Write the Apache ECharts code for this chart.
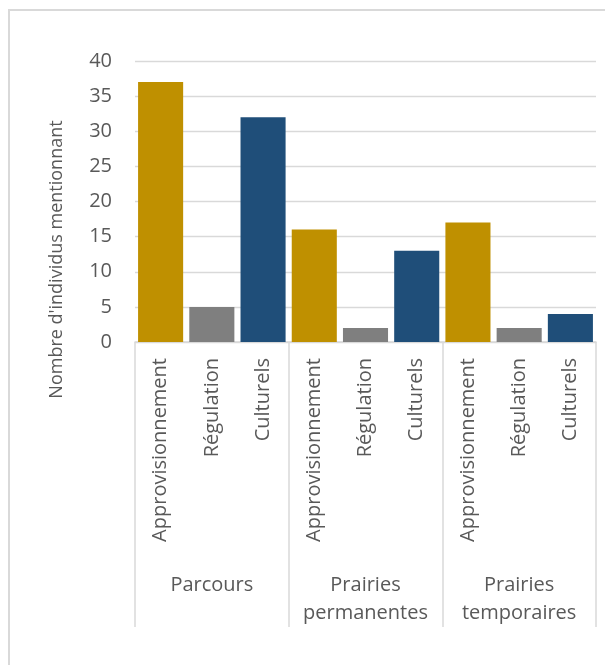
<!DOCTYPE html>
<html>
<head>
<meta charset="utf-8">
<script src="https://cdn.jsdelivr.net/npm/echarts@6/dist/echarts.min.js"></script>
<style>
html,body{margin:0;padding:0;background:#fff;}
#frame{position:absolute;left:8px;top:9px;width:700px;height:800px;border-top:2px solid #d9d9d9;border-left:2px solid #d9d9d9;box-sizing:border-box;}
#chart{position:absolute;left:0;top:0;width:605px;height:665px;}
</style>
</head>
<body>
<div id="frame"></div>
<div id="chart"></div>
<script>
const groups = ['Parcours', 'Prairies\npermanentes', 'Prairies\ntemporaires'];
const services = ['Approvisionnement', 'Régulation', 'Culturels'];
const parcours = [37, 5, 32];
const prairiesPermanentes = [16, 2, 13];
const prairiesTemporaires = [17, 2, 4];
const yTicks = { min: 0, max: 40, interval: 5 };
const serviceColors = ['#BF9000', '#7F7F7F', '#1F4E79'];

const subCategories = [].concat(services, services, services);
const values = [].concat(parcours, prairiesPermanentes, prairiesTemporaires);

const chart = echarts.init(document.getElementById('chart'));
const textColor = '#595959';
const font = 'Open Sans';
chart.setOption({
  animation: false,
  grid: { left: 135, right: 9, top: 61, bottom: 323 },
  xAxis: [
    {
      type: 'category',
      data: subCategories,
      position: 'bottom',
      axisLine: { show: false },
      axisTick: { show: false },
      axisLabel: {
        interval: 0, rotate: 90, margin: 16,
        color: textColor, fontSize: 20, fontFamily: font
      }
    },
    {
      type: 'category',
      data: groups,
      position: 'bottom',
      axisLine: { show: true, lineStyle: { color: '#d9d9d9', width: 1.5 } },
      axisTick: { show: true, interval: 0, length: 285, lineStyle: { color: '#d9d9d9', width: 1.5 } },
      axisLabel: {
        interval: 0, margin: 229, lineHeight: 28,
        color: textColor, fontSize: 20, fontFamily: font
      }
    }
  ],
  yAxis: {
    type: 'value',
    min: yTicks.min, max: yTicks.max, interval: yTicks.interval,
    name: "Nombre d'individus mentionnant",
    nameLocation: 'middle',
    nameGap: 69,
    nameTextStyle: { color: textColor, fontSize: 18, fontFamily: font, padding: [0, 116, 0, 0] },
    axisLine: { show: false },
    axisTick: { show: false },
    axisLabel: { color: textColor, fontSize: 20, fontFamily: font, margin: 23 },
    splitLine: { lineStyle: { color: '#d9d9d9', width: 1.3 } }
  },
  series: [{
    type: 'bar',
    xAxisIndex: 0,
    data: values,
    barCategoryGap: '12%',
    itemStyle: { color: p => serviceColors[p.dataIndex % 3] }
  }]
});
</script>
</body>
</html>
